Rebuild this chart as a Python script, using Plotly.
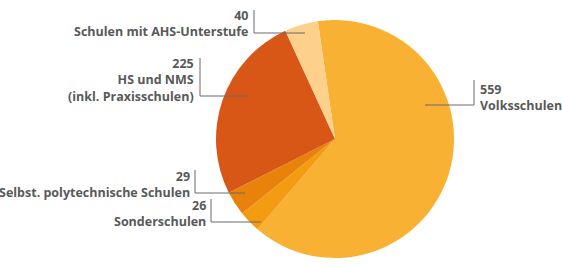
import plotly.graph_objects as go

categories = ["Volksschulen", "Sonderschulen", "Selbst. polytechnische Schulen",
              "HS und NMS<br>(inkl. Praxisschulen)", "Schulen mit AHS-Unterstufe"]
values = [559, 26, 29, 225, 40]
colors = ["#F8B133", "#F39C11", "#E8820A", "#D85716", "#FDD08B"]

W, H = 562, 268
cx, cy, r = 335, 139, 119

fig = go.Figure(go.Pie(
    labels=categories, values=values, sort=False, direction="clockwise",
    rotation=-8.3, marker=dict(colors=colors, line=dict(width=0)),
    textinfo="none", hoverinfo="label+value", showlegend=False,
    domain=dict(x=[(cx - r) / W, (cx + r) / W], y=[(H - cy - r) / H, (H - cy + r) / H]),
))

def px(x): return x / W
def py(y): return 1 - y / H

# label layout (pixel positions): text anchor x, text top y, side, leader path (vx, vy_top, hy, hx_end)
label_layout = [
    (478, 79, "left", (474, 80, 105, 425)),
    (208, 195, "right", (211, 199, 222, 261)),
    (192, 166, "right", (195, 170, 193, 245)),
    (196, 53, "right", (200, 58, 96, 248)),
    (251, 5, "right", (254, 10, 33, 305)),
]

shapes = []
annotations = []
for cat, val, (tx, ty, side, (vx, vt, hy, hx)) in zip(categories, values, label_layout):
    annotations.append(dict(
        x=px(tx), y=py(ty), xref="paper", yref="paper",
        xanchor="left" if side == "left" else "right", yanchor="top",
        align=side, showarrow=False,
        text=f"<b>{val}</b><br><b>{cat}</b>",
        font=dict(family="Open Sans", size=12.5, color="#595959"),
    ))
    shapes.append(dict(
        type="path", xref="paper", yref="paper",
        path=f"M {px(vx)} {py(vt)} L {px(vx)} {py(hy)} L {px(hx)} {py(hy)}",
        line=dict(color="#6b6b6b", width=1),
    ))

fig.update_layout(
    width=W, height=H, margin=dict(l=0, r=0, t=0, b=0),
    paper_bgcolor="white", plot_bgcolor="white",
    shapes=shapes, annotations=annotations,
)
fig.write_html("out.html")
